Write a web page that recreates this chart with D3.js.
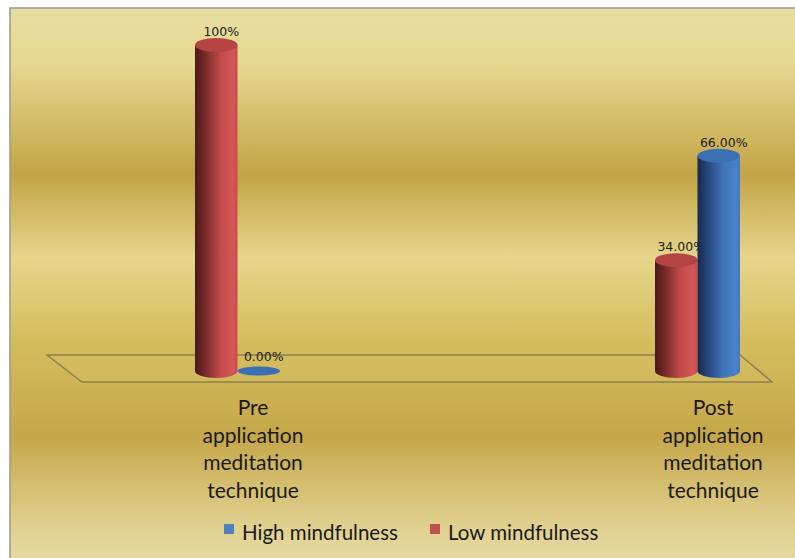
<!DOCTYPE html>
<html><head><meta charset="utf-8">
<script src="https://cdn.jsdelivr.net/npm/d3@7"></script>
<style>html,body{margin:0;padding:0;background:#fff;}svg{display:block;}</style>
</head><body>
<svg id="chart" width="795" height="558"></svg>
<script>
const categories = ["Pre application meditation technique", "Post application meditation technique"];
const categoryLines = [["Pre","application","meditation","technique"],["Post","application","meditation","technique"]];
const seriesNames = ["Low mindfulness", "High mindfulness"];
const legendOrder = ["High mindfulness", "Low mindfulness"];
const lowValues = [100, 34];
const highValues = [0, 66];
const lowLabels = ["100%", "34.00%"];
const highLabels = ["0.00%", "66.00%"];

const svg = d3.select("#chart");
const defs = svg.append("defs");

// background gradient
const bg = defs.append("linearGradient").attr("id","bg").attr("x1",0).attr("y1",0).attr("x2",0).attr("y2",1);
[[0,"#e7dea2"],[0.1,"#e6d890"],[0.3,"#c3a446"],[0.45,"#e6d68b"],[0.6,"#d5bd5c"],[0.77,"#c5a74a"],[0.93,"#e0d08e"],[1,"#e6dba6"]]
  .forEach(s=>bg.append("stop").attr("offset",s[0]).attr("stop-color",s[1]));
svg.append("rect").attr("x",10).attr("y",8).attr("width",790).attr("height",556)
  .attr("fill","url(#bg)").attr("stroke","#9c9a88").attr("stroke-width",1.5);

function cylGrad(id, stops){
  const g = defs.append("linearGradient").attr("id",id).attr("x1",0).attr("y1",0).attr("x2",1).attr("y2",0);
  stops.forEach(s=>g.append("stop").attr("offset",s[0]).attr("stop-color",s[1]));
}
cylGrad("redG",[[0,"#4a1818"],[0.25,"#7a2a2a"],[0.6,"#c24a4a"],[0.9,"#d65656"],[1,"#c84a4a"]]);
cylGrad("blueG",[[0,"#17294a"],[0.25,"#27487e"],[0.6,"#3f72b8"],[0.9,"#4b82cb"],[1,"#4278c0"]]);
const colors = {"Low mindfulness":{grad:"url(#redG)",top:"#b54545",legend:"#c0504d"},
                "High mindfulness":{grad:"url(#blueG)",top:"#3d6fb5",legend:"#4f81bd"}};

// floor
const floorBackY = 355, floorFrontY = 382;
svg.append("path")
  .attr("d",`M47,${floorBackY} L740,${floorBackY} L772,${floorFrontY} L82,${floorFrontY} Z`)
  .attr("fill","rgba(220,200,110,0.25)").attr("stroke","#8e7f52").attr("stroke-width",1.5);

const x = d3.scalePoint().domain(categories).range([237, 697]);
const xs = d3.scaleBand().domain(seriesNames).range([-42, 43]).paddingInner(0);
const y = d3.scaleLinear().domain([0, 100]).range([371, 45]);
const ry = 7;

const bars = [];
categories.forEach((c,i)=>{
  bars.push({cat:c, s:"Low mindfulness", v:lowValues[i], label:lowLabels[i]});
  bars.push({cat:c, s:"High mindfulness", v:highValues[i], label:highLabels[i]});
});

const g = svg.append("g");
bars.forEach(b=>{
  const x0 = x(b.cat) + xs(b.s), w = xs.bandwidth(), rx = w/2, cx = x0 + rx;
  const yb = y(0), yt = y(b.v);
  const col = colors[b.s];
  if (b.v > 0) {
    g.append("path")
      .attr("d",`M${x0},${yt} L${x0},${yb} A${rx},${ry} 0 0 0 ${x0+w},${yb} L${x0+w},${yt} Z`)
      .attr("fill",col.grad);
    g.append("ellipse").attr("cx",cx).attr("cy",yt).attr("rx",rx).attr("ry",ry).attr("fill",col.top);
    g.append("text").attr("x",cx+5).attr("y",yt-9).attr("text-anchor","middle")
      .attr("font-family","DejaVu Sans, sans-serif").attr("font-size",12.5).attr("fill","#222").text(b.label);
  } else {
    g.append("ellipse").attr("cx",cx).attr("cy",yb).attr("rx",rx).attr("ry",4.5).attr("fill",col.top);
    g.append("text").attr("x",cx+5).attr("y",yb-10).attr("text-anchor","middle")
      .attr("font-family","DejaVu Sans, sans-serif").attr("font-size",12.5).attr("fill","#222").text(b.label);
  }
});

// category labels
categories.forEach((c,i)=>{
  const t = svg.append("text").attr("text-anchor","middle")
    .attr("font-family","Lato, 'Open Sans', sans-serif").attr("font-size",21).attr("fill","#1a1a1a");
  categoryLines[i].forEach((ln,j)=>{
    t.append("tspan").attr("x",x(c)+16).attr("y",415+j*27.5).text(ln);
  });
});

// legend
const leg = svg.append("g");
const legX = [224, 430];
legendOrder.forEach((s,i)=>{
  leg.append("rect").attr("x",legX[i]).attr("y",524).attr("width",10).attr("height",10).attr("fill",colors[s].legend);
  leg.append("text").attr("x",legX[i]+18).attr("y",540)
    .attr("font-family","Lato, 'Open Sans', sans-serif").attr("font-size",20.5).attr("fill","#1a1a1a").text(s);
});
</script>
</body></html>
